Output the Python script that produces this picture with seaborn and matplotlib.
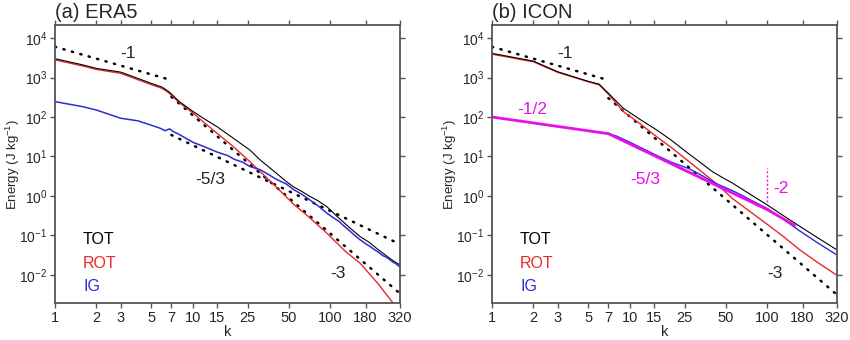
import numpy as np
import pandas as pd
import matplotlib
matplotlib.use("Agg")
import matplotlib.pyplot as plt
import seaborn as sns

sns.set_theme(style="ticks")
plt.rcParams["font.family"] = ["Liberation Sans", "DejaVu Sans"]
plt.rcParams["mathtext.fontset"] = "custom"
plt.rcParams["mathtext.rm"] = "Liberation Sans"
plt.rcParams["mathtext.it"] = "Liberation Sans:italic"
plt.rcParams["axes.unicode_minus"] = False

# ---------------- (a) ERA5 ----------------
k_era_tot = [1, 1.6, 2, 3, 4, 5, 6, 6.7, 8, 10, 12, 15, 20, 26, 31, 40, 48, 54, 62, 70, 80, 94,
             110, 124, 140, 164, 190, 220, 260, 290, 320]
e_era_tot = [3000, 2080, 1700, 1370, 950, 710, 570, 440, 245, 140, 92, 57, 28, 14.6, 8.1, 3.9,
             2.3, 1.7, 1.3, 1.0, 0.78, 0.54, 0.32, 0.22, 0.15, 0.094, 0.068, 0.045, 0.029, 0.022, 0.018]

k_era_rot = [1, 1.6, 2, 3, 4, 5, 6, 6.7, 8, 10, 12, 15, 20, 26, 31, 40, 54, 70, 94, 130, 164,
             220, 280, 320]
e_era_rot = [2800, 1950, 1600, 1280, 880, 660, 530, 410, 230, 128, 74, 39, 17, 7.4, 4.1, 1.75,
             0.62, 0.29, 0.115, 0.038, 0.02, 0.0062, 0.0021, 0.0012]

k_era_ig = [1, 1.6, 2, 3, 4, 5, 5.8, 6.3, 6.8, 7.2, 8, 10, 12, 15, 18, 20, 23, 26, 31, 36, 40,
            48, 54, 62, 70, 82, 94, 105, 115, 124, 135, 148, 164, 180, 195, 210, 220, 240, 260,
            280, 300, 320]
e_era_ig = [245, 182, 150, 93, 80, 62, 52, 45, 50, 43, 36, 23, 18, 13, 10.5, 8.5, 7.2, 5.6, 4.6,
            3.4, 2.7, 2.0, 1.45, 1.1, 0.82, 0.55, 0.37, 0.28, 0.23, 0.18, 0.14, 0.105, 0.078,
            0.062, 0.052, 0.043, 0.039, 0.031, 0.027, 0.022, 0.019, 0.016]

# ---------------- (b) ICON ----------------
k_icon_tot = [1, 2, 3, 5, 6, 7, 9, 12, 15.7, 20, 27, 32, 40, 50, 56, 75, 100, 130, 172, 230, 320]
e_icon_tot = [4100, 2600, 1400, 800, 680, 400, 166, 85, 47, 26, 11.5, 7.4, 4.1, 2.6, 2.1, 1.1,
              0.59, 0.32, 0.17, 0.089, 0.043]

k_icon_rot = [1, 2, 3, 5, 6, 7, 9, 12, 15.7, 20, 27, 32, 43, 56, 75, 100, 130, 172, 230, 320]
e_icon_rot = [3900, 2500, 1350, 780, 650, 380, 137, 66, 31.6, 17, 7.4, 4.6, 2.0, 0.85, 0.4,
              0.19, 0.095, 0.043, 0.021, 0.0098]

k_icon_ig = [1, 2, 3, 5, 7, 8, 10, 15, 20, 27, 34, 42, 56, 65, 75, 100, 130, 172, 230, 320]
e_icon_ig = [100, 70, 57, 45, 38, 33, 23, 11.5, 7.2, 4.9, 3.2, 2.1, 1.35, 1.05, 0.8, 0.48, 0.26,
             0.13, 0.066, 0.032]

# power-law guide lines: (coefficient, exponent, k_start, k_end)
era_guides = [(6000, -1, 1, 7), (1.11e5, -3, 7, 310), (897, -5 / 3, 7, 310)]
icon_guides = [(6000, -1, 1, 7), (1.03e5, -3, 7, 320)]
# ICON inertia-gravity fit segments: slopes -1/2, -5/3, -2
icon_fit_slopes = [-1 / 2, -5 / 3, -2]
icon_fit_breaks = [1, 7, 100, 158]
icon_fit_start = 100.0

k_ticks = [1, 2, 3, 5, 7, 10, 15, 25, 50, 100, 180, 320]

C_TOT = "#000000"
C_ROT = "#e82828"
C_IG = "#2c2cd6"
C_FIT = "#e810e8"
C_AX = "#555555"

fig = plt.figure(figsize=(8.5, 3.4), dpi=100)
ax_a = fig.add_axes([55 / 850, 1 - 303 / 340, 345 / 850, 278 / 340])
ax_b = fig.add_axes([492 / 850, 1 - 303 / 340, 345 / 850, 278 / 340])


def power_line(c, p, k0, k1):
    kk = np.array([k0, k1], dtype=float)
    return kk, c * kk ** p


def draw_series(ax, k, e, color, lw):
    df = pd.DataFrame({"k": k, "E": e})
    sns.lineplot(data=df, x="k", y="E", ax=ax, color=color, linewidth=lw,
                 estimator=None, sort=False)


def draw_guide(ax, c, p, k0, k1, color="black"):
    kk, ee = power_line(c, p, k0, k1)
    df = pd.DataFrame({"k": kk, "E": ee})
    sns.lineplot(data=df, x="k", y="E", ax=ax, color=color, linewidth=1.8,
                 linestyle=(0, (0.5, 3.0)), dash_capstyle="round", estimator=None)


def style_axes(ax, title):
    ax.set_xscale("log")
    ax.set_yscale("log")
    ax.set_xlim(1, 320)
    ax.set_ylim(10 ** -2.71, 10 ** 4.33)
    ax.set_xticks(k_ticks)
    ax.set_xticklabels([str(t) for t in k_ticks])
    ax.set_yticks([10.0 ** i for i in range(-2, 5)])
    ax.minorticks_off()
    ax.tick_params(which="both", direction="out", length=3.5, width=1.0, color=C_AX,
                   top=True, right=True, labelsize=10.5, pad=2)
    ax.tick_params(axis="y", labelsize=10)
    for s in ax.spines.values():
        s.set_color(C_AX)
        s.set_linewidth(1.3)
        s.set_visible(True)
    ax.set_xlabel("k", fontsize=10.5, labelpad=0)
    ax.set_ylabel("Energy (J kg$^{-1}$)", fontsize=9.5)
    ax.yaxis.set_label_coords(-0.095, 0.5)
    ax.set_title(title, loc="left", fontsize=14.5, pad=5)
    ax.text(1.6, 10 ** -1.11, "TOT", color=C_TOT, fontsize=11.5, va="center", ha="left")
    ax.text(1.6, 10 ** -1.70, "ROT", color=C_ROT, fontsize=11.5, va="center", ha="left")
    ax.text(1.6, 10 ** -2.30, "IG", color=C_IG, fontsize=11.5, va="center", ha="left")


# (a) ERA5
for c, p, k0, k1 in era_guides:
    draw_guide(ax_a, c, p, k0, k1)
draw_series(ax_a, k_era_rot, e_era_rot, C_ROT, 1.0)
draw_series(ax_a, k_era_tot, e_era_tot, C_TOT, 0.8)
draw_series(ax_a, k_era_ig, e_era_ig, C_IG, 1.1)
style_axes(ax_a, "(a) ERA5")
ax_a.text(3.39, 10 ** 3.6, "-1", fontsize=12.5, ha="center", va="center")
ax_a.text(13.4, 10 ** 0.43, "-5/3", fontsize=12.5, ha="center", va="center")
ax_a.text(113, 10 ** -1.97, "-3", fontsize=12.5, ha="center", va="center")

# (b) ICON
for c, p, k0, k1 in icon_guides:
    draw_guide(ax_b, c, p, k0, k1)
draw_series(ax_b, k_icon_rot, e_icon_rot, C_ROT, 1.0)
draw_series(ax_b, k_icon_ig, e_icon_ig, C_IG, 1.0)
draw_series(ax_b, k_icon_tot, e_icon_tot, C_TOT, 0.8)

e0 = icon_fit_start
for p, k0, k1 in zip(icon_fit_slopes, icon_fit_breaks[:-1], icon_fit_breaks[1:]):
    c = e0 / k0 ** p
    kk, ee = power_line(c, p, k0, k1)
    sns.lineplot(x=kk, y=ee, ax=ax_b, color=C_FIT, linewidth=2.0, estimator=None)
    e0 = ee[-1]
ax_b.plot([100, 100], [10 ** -0.15, 10 ** 0.71], color=C_FIT, linewidth=1.0,
          linestyle=(0, (1.5, 1.5)))
style_axes(ax_b, "(b) ICON")
ax_b.text(3.39, 10 ** 3.62, "-1", fontsize=12.5, ha="center", va="center")
ax_b.text(1.95, 10 ** 2.18, "-1/2", color=C_FIT, fontsize=12.5, ha="center", va="center")
ax_b.text(12.9, 10 ** 0.43, "-5/3", color=C_FIT, fontsize=12.5, ha="center", va="center")
ax_b.text(125, 10 ** 0.20, "-2", color=C_FIT, fontsize=12.5, ha="center", va="center")
ax_b.text(113, 10 ** -1.97, "-3", fontsize=12.5, ha="center", va="center")

fig.savefig("out.png", dpi=100)
